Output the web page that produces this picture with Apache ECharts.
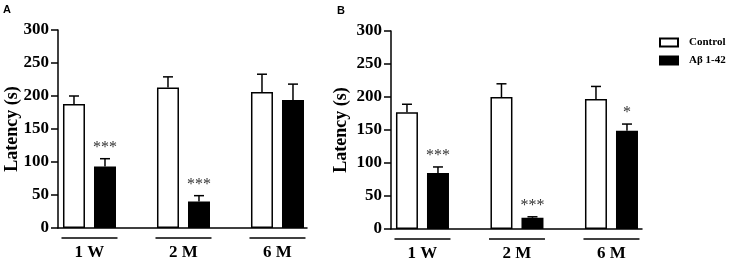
<!DOCTYPE html>
<html>
<head>
<meta charset="utf-8">
<script src="https://cdn.jsdelivr.net/npm/echarts@6/dist/echarts.min.js"></script>
<style>
  html, body { margin: 0; padding: 0; background: #fff; }
  #chart { width: 737px; height: 259px; }
</style>
</head>
<body>
<div id="chart"></div>
<script>
const categories = ['1 W', '2 M', '6 M'];
const yTicks = [0, 50, 100, 150, 200, 250, 300];

// panel A
const controlA = [188, 213, 206];
const controlErrA = [12, 16, 27];
const abetaA = [93, 40, 194];
const abetaErrA = [12, 9, 24];
const starsA = ['***', '***', ''];

// panel B
const controlB = [177, 200, 197];
const controlErrB = [12, 20, 19];
const abetaB = [85, 17, 149];
const abetaErrB = [9, 1.5, 10];
const starsB = ['***', '***', '*'];

const serif = 'Liberation Serif, Times New Roman, serif';
const chart = echarts.init(document.getElementById('chart'));

const pts = (vals) => vals.map((v, i) => [i, v]);

function errSeries(idx, vals, errs, stars, off) {
  return {
    type: 'custom',
    xAxisIndex: idx,
    yAxisIndex: idx,
    z: 5,
    silent: true,
    data: vals.map((v, i) => [i, v, errs[i]]),
    renderItem: (params, api) => {
      const base = api.coord([api.value(0), api.value(1)]);
      const top = api.coord([api.value(0), api.value(1) + api.value(2)]);
      const x = base[0] + off;
      const star = stars[params.dataIndex];
      const children = [
        { type: 'line', shape: { x1: x, y1: base[1], x2: x, y2: top[1] },
          style: { stroke: '#000', lineWidth: 1.5 } },
        { type: 'line', shape: { x1: x - 5, y1: top[1], x2: x + 5, y2: top[1] },
          style: { stroke: '#000', lineWidth: 1.5 } }
      ];
      if (star) {
        children.push({
          type: 'text',
          style: { text: star, x: x, y: top[1] - 3, align: 'center', verticalAlign: 'bottom',
                   font: '16px ' + serif, fill: '#333' }
        });
      }
      return { type: 'group', children: children };
    }
  };
}

function xAxisFor(idx, min, max) {
  return {
    type: 'value',
    gridIndex: idx,
    min: min,
    max: max,
    axisLine: { show: true, onZero: false, lineStyle: { color: '#000', width: 1.5 } },
    axisTick: { show: false },
    splitLine: { show: false },
    axisLabel: {
      customValues: [0, 1, 2],
      margin: 9,
      formatter: (v) => '{u| }\n{t|' + categories[Math.round(v)] + '}',
      rich: {
        u: { width: 56, height: 1.5, lineHeight: 2, backgroundColor: '#000', fontSize: 1 },
        t: { fontFamily: serif, fontWeight: 'bold', fontSize: 17, color: '#000', lineHeight: 28 }
      }
    }
  };
}

function yAxisFor(idx, gap) {
  return {
    type: 'value',
    gridIndex: idx,
    min: 0,
    max: 300,
    interval: 50,
    name: 'Latency (s)',
    nameLocation: 'middle',
    nameGap: gap,
    nameRotate: 90,
    nameMoveOverlap: false,
    nameTextStyle: { fontFamily: serif, fontWeight: 'bold', fontSize: 18, color: '#000' },
    axisLine: { show: true, onZero: false, lineStyle: { color: '#000', width: 1.5 } },
    axisTick: { show: true, length: 7, lineStyle: { color: '#000', width: 1.5 } },
    splitLine: { show: false },
    axisLabel: {
      margin: 9,
      fontFamily: serif, fontWeight: 'bold', fontSize: 17, color: '#000',
      formatter: (v) => yTicks.includes(v) ? String(v) : ''
    }
  };
}

const ctrlStyle = { color: '#fff', borderColor: '#000', borderWidth: 1.5 };
const abStyle = { color: '#000', borderColor: '#000', borderWidth: 1.5 };

chart.setOption({
  animation: false,
  grid: [
    { left: 58, top: 30, width: 249, height: 198, outerBoundsMode: 'none' },
    { left: 391, top: 31, width: 251, height: 198, outerBoundsMode: 'none' }
  ],
  xAxis: [xAxisFor(0, -0.335, 2.314), xAxisFor(1, -0.333, 2.323)],
  yAxis: [yAxisFor(0, 37), yAxisFor(1, 41)],
  legend: {
    data: ['Control', 'Aβ 1-42'],
    orient: 'vertical',
    left: 654,
    top: 32,
    padding: 5,
    itemWidth: 18,
    itemHeight: 8,
    itemGap: 7,
    icon: 'rect',
    selectedMode: false,
    textStyle: { fontFamily: serif, fontWeight: 'bold', fontSize: 11, color: '#000', padding: [0, 0, 0, 6] }
  },
  graphic: [
    { type: 'text', left: 3, top: 4, style: { text: 'A', font: 'bold 11px Liberation Sans, Arial, sans-serif', fill: '#000' } },
    { type: 'text', left: 337, top: 5, style: { text: 'B', font: 'bold 11px Liberation Sans, Arial, sans-serif', fill: '#000' } }
  ],
  series: [
    { name: 'Control', type: 'bar', xAxisIndex: 0, yAxisIndex: 0, data: pts(controlA),
      barWidth: 22, barGap: '41%', itemStyle: ctrlStyle },
    { name: 'Aβ 1-42', type: 'bar', xAxisIndex: 0, yAxisIndex: 0, data: pts(abetaA),
      barWidth: 22, barGap: '41%', itemStyle: abStyle },
    { name: 'Control', type: 'bar', xAxisIndex: 1, yAxisIndex: 1, data: pts(controlB),
      barWidth: 22, barGap: '41%', itemStyle: ctrlStyle },
    { name: 'Aβ 1-42', type: 'bar', xAxisIndex: 1, yAxisIndex: 1, data: pts(abetaB),
      barWidth: 22, barGap: '41%', itemStyle: abStyle },
    errSeries(0, controlA, controlErrA, ['', '', ''], -15.5),
    errSeries(0, abetaA, abetaErrA, starsA, 15.5),
    errSeries(1, controlB, controlErrB, ['', '', ''], -15.5),
    errSeries(1, abetaB, abetaErrB, starsB, 15.5)
  ]
});
</script>
</body>
</html>
